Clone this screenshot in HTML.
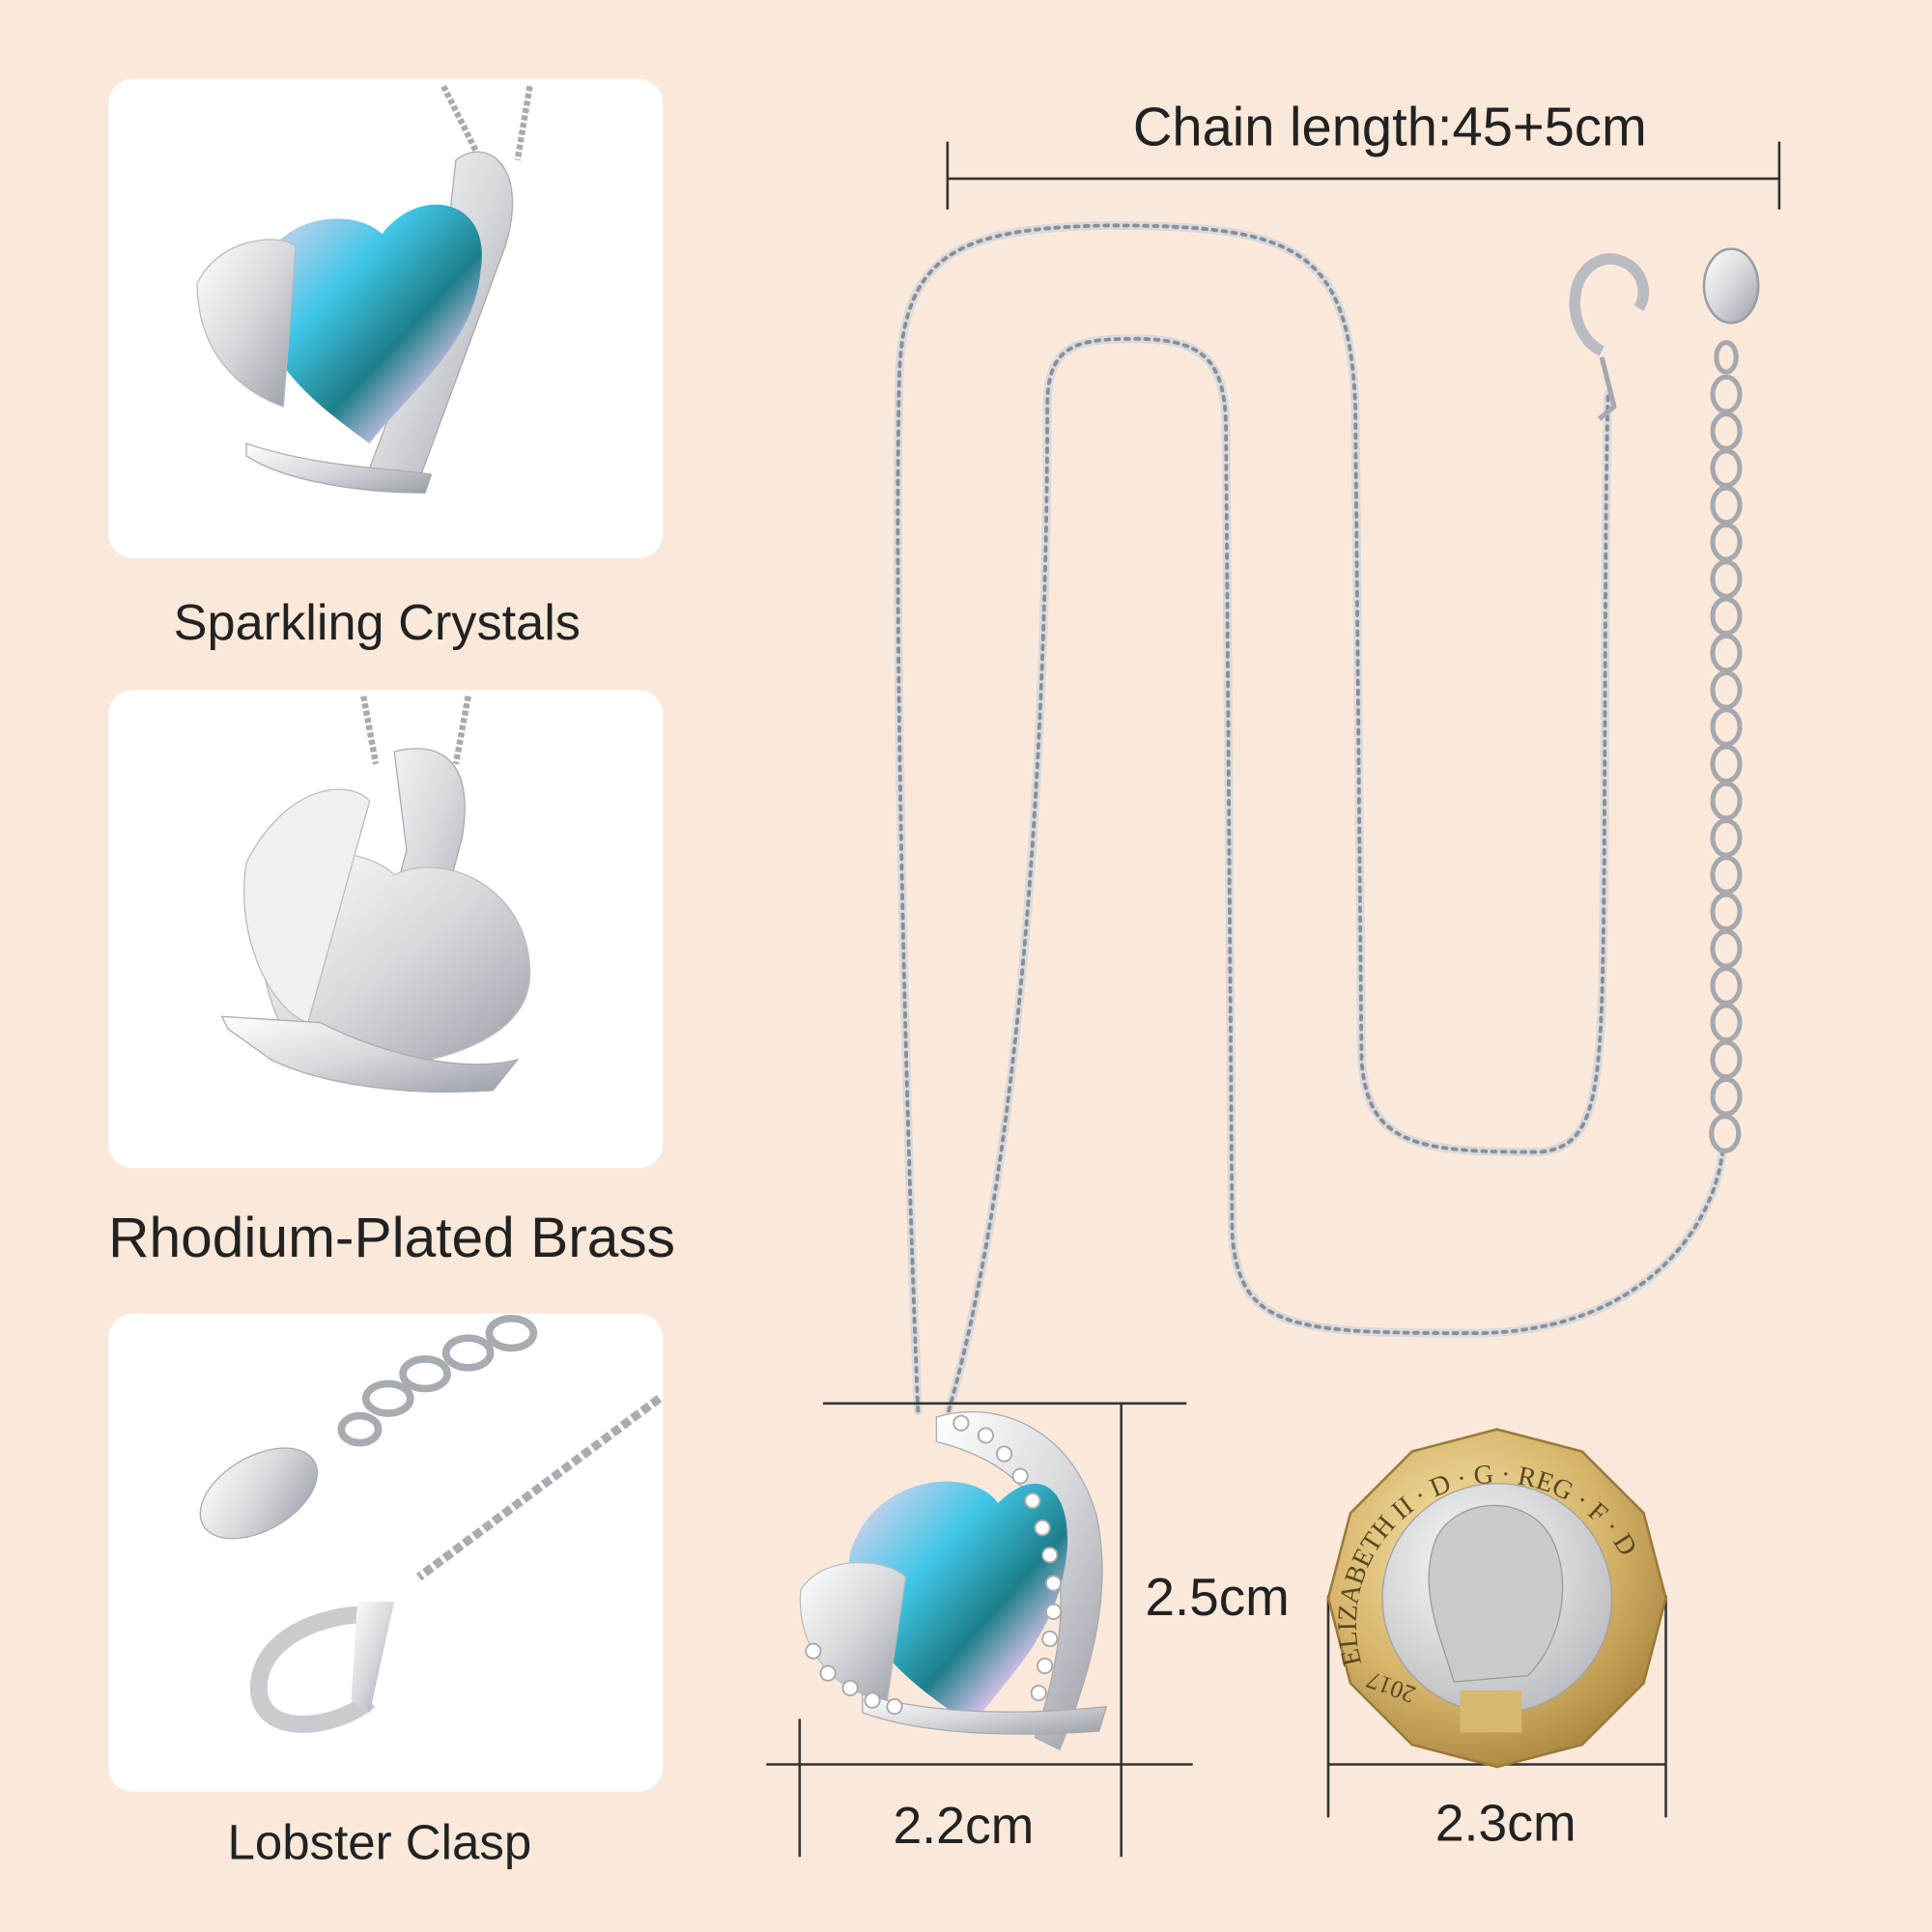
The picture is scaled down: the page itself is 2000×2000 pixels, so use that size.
<!DOCTYPE html>
<html><head><meta charset="utf-8"><style>
html,body{margin:0;padding:0;background:#fae9da;}
svg{display:block}
text{font-family:"Liberation Sans",sans-serif;fill:#222}
</style></head><body>
<svg width="2000" height="2000" viewBox="0 0 1568 1568" xmlns="http://www.w3.org/2000/svg">
<defs>
<linearGradient id="cry" x1="0" y1="0" x2="1" y2="1">
<stop offset="0" stop-color="#f4d6f0"/><stop offset="0.35" stop-color="#3fc6e6"/><stop offset="0.6" stop-color="#1d7f8a"/><stop offset="0.8" stop-color="#e8c7f1"/><stop offset="1" stop-color="#f7e2b8"/>
</linearGradient>
<linearGradient id="sil" x1="0" y1="0" x2="1" y2="1">
<stop offset="0" stop-color="#ffffff"/><stop offset="0.5" stop-color="#d6d8dc"/><stop offset="1" stop-color="#9a9ea6"/>
</linearGradient>
<radialGradient id="gold" cx="0.4" cy="0.35" r="0.7">
<stop offset="0" stop-color="#f6e3a8"/><stop offset="0.6" stop-color="#d6b46a"/><stop offset="1" stop-color="#a8843e"/>
</radialGradient>
<radialGradient id="silc" cx="0.4" cy="0.35" r="0.7">
<stop offset="0" stop-color="#fbfbfb"/><stop offset="1" stop-color="#b9bcc0"/>
</radialGradient>
<path id="cpath" d="M1105,1350 A115,115 0 1 1 1330,1330"/>
</defs>
<rect width="1568" height="1568" fill="#fae9da"/>

<rect x="88" y="64" width="450" height="389" rx="20" fill="#fff"/>
<rect x="88" y="560" width="450" height="388" rx="20" fill="#fff"/>
<rect x="88" y="1066" width="450" height="388" rx="20" fill="#fff"/>

<text x="306" y="519" font-size="41" text-anchor="middle">Sparkling Crystals</text>
<text x="318" y="1020" font-size="46" text-anchor="middle">Rhodium-Plated Brass</text>
<text x="308" y="1509" font-size="40" text-anchor="middle">Lobster Clasp</text>

<g>
<path d="M360,70 L390,130 M430,70 L420,130" stroke="#aaa" stroke-width="5" stroke-dasharray="4 2" fill="none"/>
<path d="M370,130 C395,110 430,135 410,200 L340,390 L300,380 L360,220 Z" fill="url(#sil)" stroke="#aaa"/>
<path d="M210,220 C230,170 290,170 310,190 C340,150 400,160 390,220 C385,280 330,320 300,360 C260,330 200,290 210,220 Z" fill="url(#cry)"/>
<path d="M160,230 C180,190 230,190 240,200 L230,330 C200,320 160,290 160,230 Z" fill="url(#sil)" stroke="#bbb"/>
<path d="M200,360 C260,380 320,380 350,385 L345,400 C290,400 230,390 200,370 Z" fill="url(#sil)" stroke="#aaa"/>
</g>

<g>
<path d="M295,565 L305,620 M380,565 L370,620" stroke="#aaa" stroke-width="5" stroke-dasharray="4 2" fill="none"/>
<path d="M320,610 C360,600 385,620 375,680 L330,850 L290,840 L330,690 Z" fill="url(#sil)" stroke="#aaa"/>
<path d="M220,720 C240,680 300,690 320,710 C360,690 430,720 430,790 C430,850 340,870 250,870 C220,830 200,770 220,720 Z" fill="url(#sil)" stroke="#bbb"/>
<path d="M200,700 C230,640 280,630 300,650 L250,830 C220,820 190,760 200,700 Z" fill="#eef0f2" stroke="#bbb"/>
<path d="M180,825 L260,830 C320,860 380,870 420,860 L400,885 C330,890 260,880 220,860 L185,835 Z" fill="url(#sil)" stroke="#aaa"/>
</g>

<g fill="none" stroke="#a8abb0" stroke-width="6">
<ellipse cx="415" cy="1082" rx="18" ry="12"/>
<ellipse cx="380" cy="1098" rx="18" ry="12"/>
<ellipse cx="345" cy="1115" rx="18" ry="12"/>
<ellipse cx="315" cy="1135" rx="18" ry="12"/>
<ellipse cx="292" cy="1160" rx="15" ry="11"/>
<path d="M535,1135 L340,1280" stroke-dasharray="7 3" stroke-width="7"/>
<path d="M300,1310 C260,1310 210,1330 210,1370 C210,1410 270,1405 300,1380" stroke-width="14" stroke="#c9cbcf"/>
</g>
<ellipse cx="210" cy="1212" rx="52" ry="30" transform="rotate(-30 210 1212)" fill="url(#sil)" stroke="#aaa"/>
<path d="M290,1300 L320,1300 L300,1390 L285,1380 Z" fill="url(#sil)"/>

<text x="1128" y="118" font-size="44" text-anchor="middle">Chain length:45+5cm</text>
<g stroke="#333" stroke-width="2">
<line x1="768" y1="145" x2="1445" y2="145"/>
<line x1="769" y1="115" x2="769" y2="170"/>
<line x1="1444" y1="115" x2="1444" y2="170"/>
</g>

<g fill="none" stroke-linecap="round">
<path d="M745,1145 C735,900 725,500 730,300 C735,205 780,185 900,183 C1050,183 1095,200 1100,330 L1105,860 C1110,930 1150,935 1250,935 C1300,930 1300,880 1302,700 C1303,500 1303,400 1305,320" stroke="#d8dadd" stroke-width="7"/>
<path d="M745,1145 C735,900 725,500 730,300 C735,205 780,185 900,183 C1050,183 1095,200 1100,330 L1105,860 C1110,930 1150,935 1250,935 C1300,930 1300,880 1302,700 C1303,500 1303,400 1305,320" stroke="#8a8d92" stroke-width="3" stroke-dasharray="3 5"/>
<path d="M770,1145 C840,900 850,500 850,330 C850,282 870,275 920,275 C975,275 995,290 995,350 L1000,1000 C1005,1080 1050,1082 1200,1082 C1330,1080 1390,1000 1398,935" stroke="#d8dadd" stroke-width="7"/>
<path d="M770,1145 C840,900 850,500 850,330 C850,282 870,275 920,275 C975,275 995,290 995,350 L1000,1000 C1005,1080 1050,1082 1200,1082 C1330,1080 1390,1000 1398,935" stroke="#8a8d92" stroke-width="3" stroke-dasharray="3 5"/>
</g>
<g fill="none" stroke="#a5a8ad" stroke-width="4">
<ellipse cx="1401" cy="290" rx="8" ry="12"/><ellipse cx="1401" cy="320" rx="11" ry="14"/>
<ellipse cx="1401" cy="350" rx="11" ry="14"/><ellipse cx="1401" cy="380" rx="11" ry="14"/>
<ellipse cx="1401" cy="410" rx="11" ry="14"/><ellipse cx="1401" cy="440" rx="11" ry="14"/>
<ellipse cx="1401" cy="470" rx="11" ry="14"/><ellipse cx="1401" cy="500" rx="11" ry="14"/>
<ellipse cx="1401" cy="530" rx="11" ry="14"/><ellipse cx="1401" cy="560" rx="11" ry="14"/>
<ellipse cx="1401" cy="590" rx="11" ry="14"/><ellipse cx="1401" cy="620" rx="11" ry="14"/>
<ellipse cx="1401" cy="650" rx="11" ry="14"/><ellipse cx="1401" cy="680" rx="11" ry="14"/>
<ellipse cx="1401" cy="710" rx="11" ry="14"/><ellipse cx="1401" cy="740" rx="11" ry="14"/>
<ellipse cx="1401" cy="770" rx="11" ry="14"/><ellipse cx="1401" cy="800" rx="11" ry="14"/>
<ellipse cx="1401" cy="830" rx="11" ry="14"/><ellipse cx="1401" cy="860" rx="11" ry="14"/>
<ellipse cx="1401" cy="890" rx="11" ry="14"/><ellipse cx="1400" cy="920" rx="11" ry="14"/>
</g>
<ellipse cx="1405" cy="232" rx="22" ry="30" fill="url(#sil)" stroke="#9a9da2" stroke-width="2"/>
<path d="M1300,285 C1270,270 1270,215 1305,210 C1330,210 1340,235 1330,250" fill="none" stroke="#b8bbbf" stroke-width="9"/>
<path d="M1300,290 L1310,330 L1298,340" fill="none" stroke="#a5a8ad" stroke-width="4"/>

<g>
<path d="M760,1150 C810,1135 870,1160 890,1230 C905,1300 880,1370 860,1420 L840,1410 C860,1350 870,1290 850,1240 C835,1200 800,1180 760,1170 Z" fill="url(#sil)" stroke="#aaa"/>
<path d="M690,1260 C710,1195 790,1190 810,1220 C850,1180 880,1220 860,1290 C845,1340 810,1370 790,1400 C740,1370 680,1320 690,1260 Z" fill="url(#cry)"/>
<path d="M650,1290 C670,1260 720,1265 735,1280 L720,1380 C680,1375 645,1340 650,1290 Z" fill="url(#sil)" stroke="#bbb"/>
<path d="M700,1375 C760,1392 830,1392 898,1385 L892,1405 C820,1410 750,1408 700,1390 Z" fill="url(#sil)" stroke="#aaa"/>
<g fill="#fff" stroke="#aaa" stroke-width="1.5">
<circle cx="780" cy="1155" r="6"/><circle cx="800" cy="1165" r="6"/><circle cx="815" cy="1180" r="6"/><circle cx="828" cy="1198" r="6"/>
<circle cx="838" cy="1218" r="6"/><circle cx="846" cy="1240" r="6"/><circle cx="852" cy="1262" r="6"/><circle cx="855" cy="1285" r="6"/>
<circle cx="855" cy="1308" r="6"/><circle cx="852" cy="1330" r="6"/><circle cx="848" cy="1352" r="6"/><circle cx="843" cy="1374" r="6"/>
<circle cx="660" cy="1340" r="6"/><circle cx="672" cy="1358" r="6"/><circle cx="690" cy="1370" r="6"/><circle cx="708" cy="1380" r="6"/><circle cx="726" cy="1385" r="6"/>
</g>
</g>

<g stroke="#333" stroke-width="2">
<line x1="668" y1="1139" x2="963" y2="1139"/>
<line x1="910" y1="1139" x2="910" y2="1507"/>
<line x1="622" y1="1432" x2="968" y2="1432"/>
<line x1="649" y1="1395" x2="649" y2="1507"/>
<line x1="1078" y1="1295" x2="1078" y2="1475"/>
<line x1="1352" y1="1295" x2="1352" y2="1475"/>
<line x1="1078" y1="1432" x2="1352" y2="1432"/>
</g>
<text x="988" y="1311" font-size="43" text-anchor="middle">2.5cm</text>
<text x="782" y="1496" font-size="42" text-anchor="middle">2.2cm</text>
<text x="1222" y="1494" font-size="42" text-anchor="middle">2.3cm</text>

<polygon points="1215,1160 1284,1178 1334,1228 1352,1297 1334,1366 1284,1416 1215,1434 1146,1416 1096,1366 1078,1297 1096,1228 1146,1178" fill="url(#gold)" stroke="#9a7a3a" stroke-width="2"/>
<circle cx="1215" cy="1297" r="93" fill="url(#silc)" stroke="#a0a0a0"/>
<path d="M1165,1250 C1180,1215 1240,1210 1260,1250 C1275,1280 1270,1330 1240,1360 L1180,1365 C1170,1330 1150,1290 1165,1250 Z" fill="#c8cacd" stroke="#999"/>
<rect x="1185" y="1372" width="50" height="34" fill="#d7b86f"/>
<text font-size="22" font-family="Liberation Serif" fill="#5a4620" style="font-family:'Liberation Serif',serif;fill:#5a4620"><textPath href="#cpath">ELIZABETH II · D · G · REG · F · D</textPath></text>
<text x="1150" y="1370" font-size="20" transform="rotate(200 1150 1370)" style="font-family:'Liberation Serif',serif;fill:#5a4620">2017</text>
</svg>
</body></html>
